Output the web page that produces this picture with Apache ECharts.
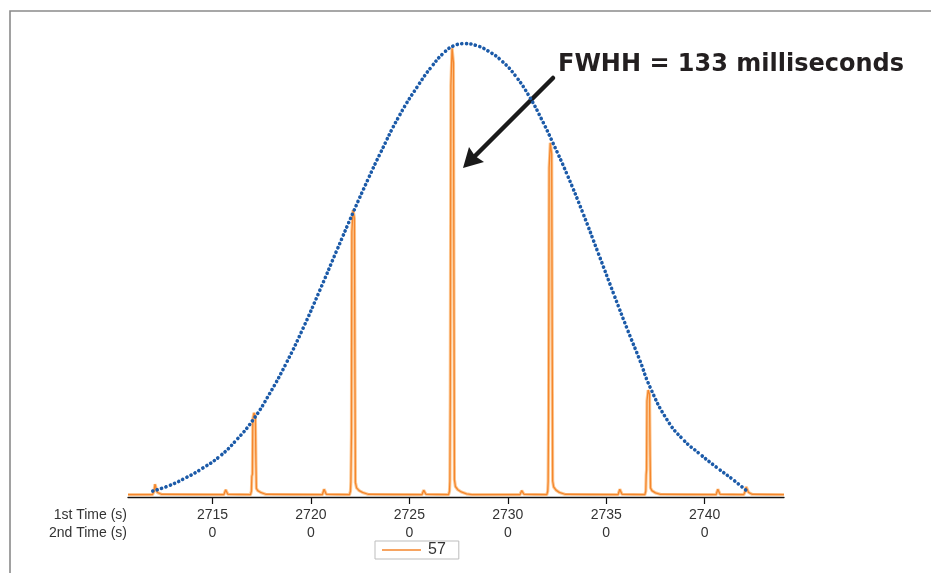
<!DOCTYPE html>
<html><head><meta charset="utf-8">
<script src="https://cdn.jsdelivr.net/npm/echarts@6/dist/echarts.min.js"></script>
<style>html,body{margin:0;padding:0;background:#fff}#c{width:931px;height:573px}</style>
</head><body><div id="c"></div>
<script>
// ---- data ----
const firstTimeTicks = [2715, 2720, 2725, 2730, 2735, 2740];
const secondTimeTicks = [0, 0, 0, 0, 0, 0];
const axisMin = 2710.71, axisMax = 2744.03;
const rowLabels = ['1st Time (s)', '2nd Time (s)'];
const seriesName = '57';
const annotationText = 'FWHH = 133 milliseconds';

// Gaussian envelope (dotted)
const envelopeTime = [2711.97, 2712.8, 2713.69, 2714.5, 2715.37, 2716.2, 2717.05, 2717.9, 2718.75, 2719.6, 2720.45, 2721.3, 2722.18, 2722.9, 2723.5, 2724.5, 2725.5, 2726.1, 2726.8, 2727.3, 2727.8, 2728.4, 2729.0, 2729.7, 2730.4, 2731.1, 2731.7, 2732.29, 2733.0, 2733.8, 2734.6, 2735.4, 2736.1, 2736.7, 2737.23, 2738.09, 2738.9, 2739.76, 2740.63, 2741.44, 2742.2];
const envelopeValue = [1.3, 2.5, 4.3, 6.3, 8.9, 12.4, 16.8, 22.6, 29.3, 36.9, 45.2, 53.8, 62.6, 69.5, 75.0, 83.5, 90.4, 94.0, 97.4, 98.8, 99.2, 98.8, 97.6, 95.4, 92.1, 87.6, 82.8, 77.5, 70.7, 62.3, 53.3, 44.2, 36.4, 30.0, 24.0, 16.9, 12.6, 9.4, 6.4, 3.8, 1.1];

// m/z 57 trace [time (s), intensity]
const trace57 = [
  [2710.71, 0.5],
  [2711.95, 0.5], [2712.03, 1.2], [2712.08, 2.8], [2712.14, 2.5], [2712.2, 1.0], [2712.4, 0.6],
  [2715.58, 0.5], [2715.67, 1.6], [2715.78, 0.6],
  [2716.93, 0.5], [2716.98, 1.3], [2717.0, 4.5], [2717.03, 5], [2717.05, 17], [2717.11, 18.4], [2717.18, 17.6], [2717.21, 7], [2717.23, 1.9], [2717.3, 1.4], [2717.45, 1.0], [2717.7, 0.6],
  [2720.58, 0.5], [2720.67, 1.7], [2720.78, 0.6],
  [2721.96, 0.5], [2722.01, 1.3], [2722.03, 3.3], [2722.06, 14], [2722.08, 58], [2722.14, 62.8], [2722.21, 61], [2722.24, 24], [2722.26, 3.2], [2722.32, 2.0], [2722.45, 1.4], [2722.62, 1.0], [2722.9, 0.6],
  [2725.64, 0.5], [2725.73, 1.5], [2725.84, 0.6],
  [2726.99, 0.5], [2727.04, 1.3], [2727.06, 3.5], [2727.08, 22], [2727.11, 90], [2727.17, 98.2], [2727.24, 95], [2727.27, 38], [2727.29, 3.8], [2727.34, 2.3], [2727.46, 1.6], [2727.64, 1.1], [2727.9, 0.7], [2728.2, 0.5],
  [2730.62, 0.5], [2730.71, 1.4], [2730.82, 0.6],
  [2731.98, 0.5], [2732.03, 1.3], [2732.05, 3.4], [2732.07, 17], [2732.1, 72], [2732.16, 77.5], [2732.23, 75], [2732.26, 30], [2732.28, 3.5], [2732.33, 2.2], [2732.45, 1.5], [2732.62, 1.0], [2732.9, 0.6],
  [2735.6, 0.5], [2735.69, 1.7], [2735.8, 0.6],
  [2736.96, 0.5], [2737.01, 1.3], [2737.03, 4.8], [2737.05, 6], [2737.07, 21], [2737.13, 23.4], [2737.2, 22.5], [2737.23, 9], [2737.25, 2], [2737.32, 1.4], [2737.5, 0.9], [2737.75, 0.6],
  [2740.58, 0.5], [2740.67, 1.7], [2740.78, 0.6],
  [2741.98, 0.5], [2742.06, 1.2], [2742.11, 2.2], [2742.17, 2.0], [2742.23, 1.0], [2742.4, 0.6],
  [2744.03, 0.5]
];

// ---- chart ----
const chart = echarts.init(document.getElementById('c'), null, {renderer: 'canvas'});
const envelopeData = envelopeTime.map((t, i) => [t, envelopeValue[i]]);
const labelFont = '"Liberation Sans", Arial, sans-serif';

const option = {
  animation: false,
  backgroundColor: '#fff',
  grid: {left: 128, right: 147, top: 40, bottom: 76},
  xAxis: {
    type: 'value', min: axisMin, max: axisMax,
    splitLine: {show: false},
    axisLine: {lineStyle: {color: '#111', width: 1.3}},
    axisTick: {customValues: firstTimeTicks, length: 7, lineStyle: {color: '#111', width: 1.2}},
    axisLabel: {
      customValues: firstTimeTicks, margin: 9,
      formatter: function (v) {
        const i = firstTimeTicks.indexOf(Math.round(v));
        return '{a|' + firstTimeTicks[i] + '}\n{a|' + secondTimeTicks[i] + '}';
      },
      rich: {a: {fontFamily: labelFont, fontSize: 14, color: '#333', lineHeight: 18}}
    }
  },
  yAxis: {type: 'value', min: 0, max: 100, show: false},
  legend: {
    data: [seriesName], left: 375, top: 541,
    icon: 'rect', itemWidth: 39, itemHeight: 1.3,
    borderColor: '#bdbdbd', borderWidth: 1, padding: [1, 13, 1, 7],
    textStyle: {fontFamily: labelFont, fontSize: 16, color: '#333', lineHeight: 16, padding: [0, 0, 0, 2]}
  },
  series: [
    {
      name: 'halo', type: 'line', data: trace57, showSymbol: false, symbol: 'none', silent: true,
      lineStyle: {color: '#fcc995', width: 3.2}, z: 1
    },
    {
      name: seriesName, type: 'line', data: trace57, showSymbol: false, symbol: 'none',
      lineStyle: {color: '#f5862c', width: 1.3}, itemStyle: {color: '#f5862c'}, z: 2
    },
    {
      name: 'envelope', type: 'line', data: envelopeData, showSymbol: false, symbol: 'none', smooth: true,
      lineStyle: {color: '#1b5aa8', width: 3.6, type: [0.1, 4.5], cap: 'round'}, z: 3
    }
  ],
  graphic: [
    {type: 'rect', shape: {x: 10, y: 11, width: 1200, height: 1200}, style: {fill: 'none', stroke: '#8a8a8a', lineWidth: 1.6}, silent: true},
    {type: 'text', x: 127, y: 515, style: {text: rowLabels[0], font: '14px ' + labelFont, fill: '#333', textAlign: 'right', textVerticalAlign: 'middle'}},
    {type: 'text', x: 127, y: 533, style: {text: rowLabels[1], font: '14px ' + labelFont, fill: '#333', textAlign: 'right', textVerticalAlign: 'middle'}},
    {type: 'text', x: 558, y: 65, style: {text: annotationText, font: 'bold 24px "DejaVu Sans", Verdana, sans-serif', fill: '#231f20', textAlign: 'left', textVerticalAlign: 'middle'}},
    {type: 'line', shape: {x1: 553, y1: 78, x2: 474, y2: 157}, style: {stroke: '#1a1a1a', lineWidth: 4.5, lineCap: 'round'}},
    {type: 'polygon', shape: {points: [[463, 168], [469, 147], [475, 156], [484, 162]]}, style: {fill: '#1a1a1a'}}
  ]
};
chart.setOption(option);
</script></body></html>
